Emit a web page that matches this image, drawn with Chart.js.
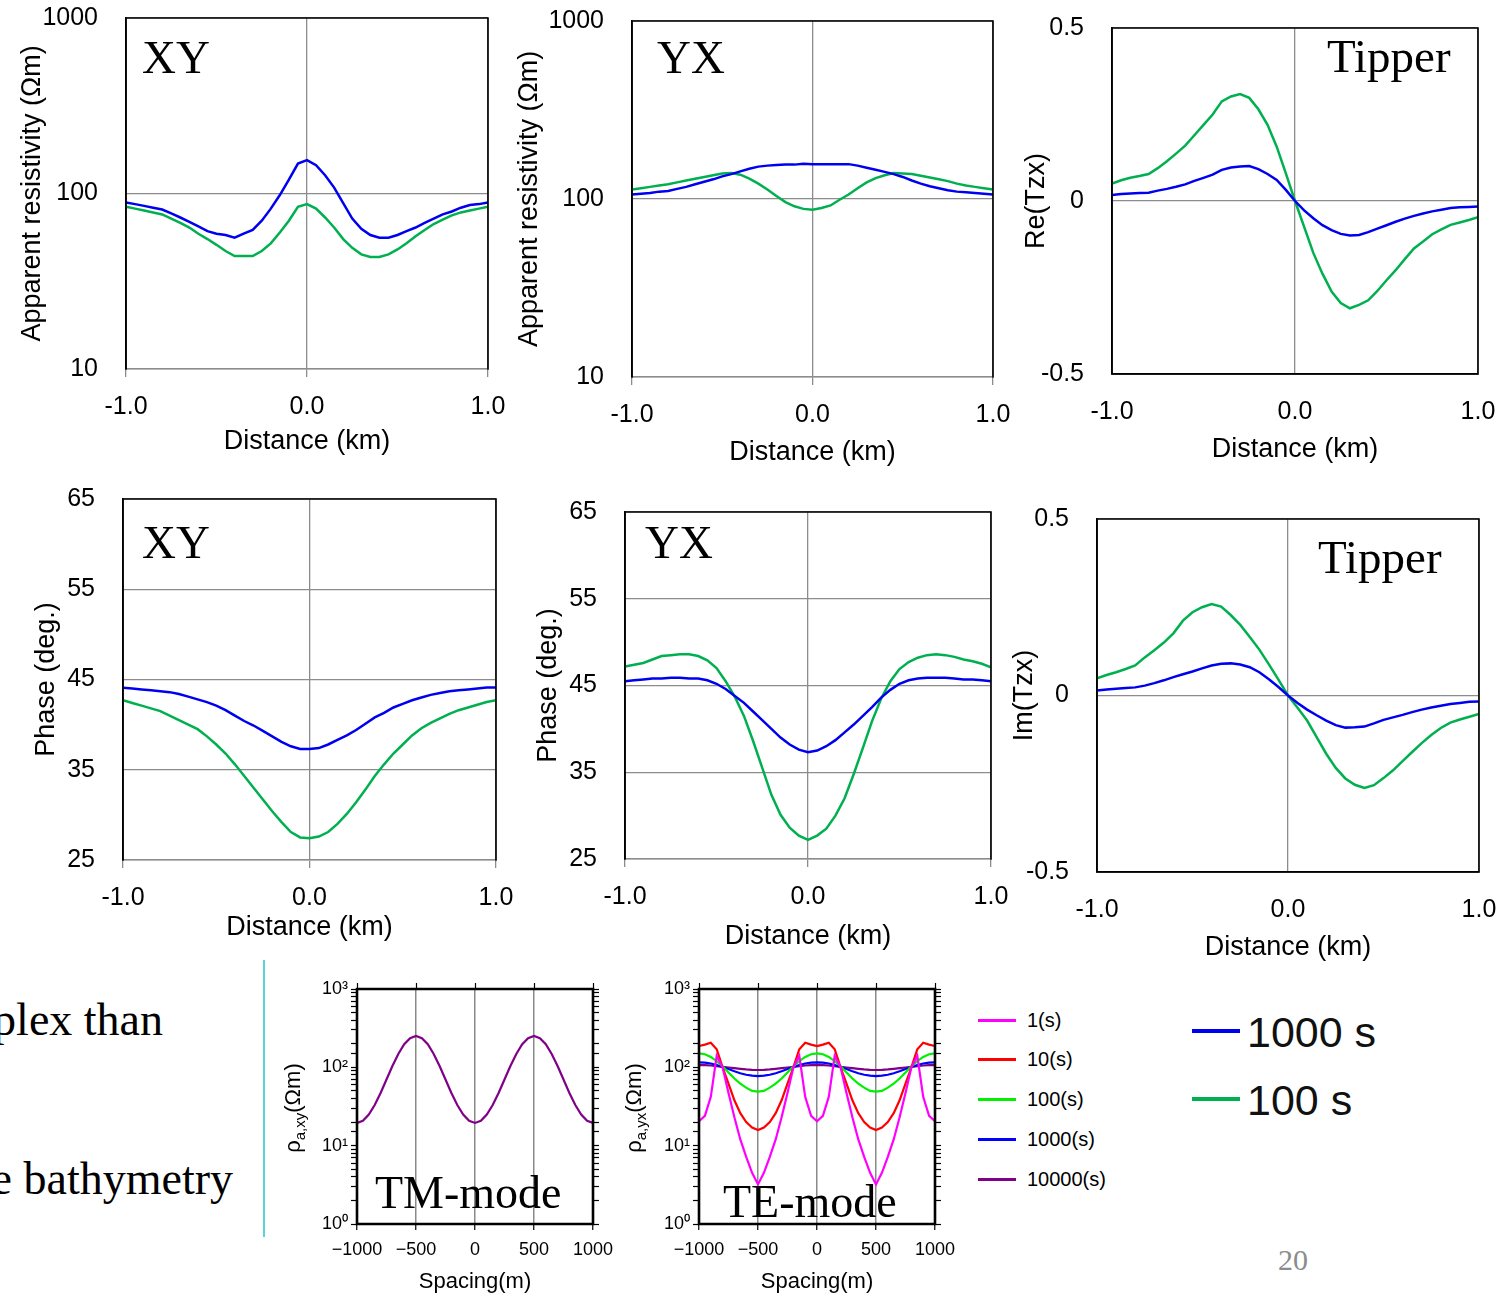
<!DOCTYPE html>
<html>
<head>
<meta charset="utf-8">
<title>Respuestas MT - XY, YX y Tipper</title>
<script src="https://cdn.jsdelivr.net/npm/chart.js"></script>
<style>
  body { margin: 0; width: 1496px; height: 1293px; position: relative; overflow: hidden; background: #fff; }
  canvas { position: absolute; }
  .txt { position: absolute; white-space: nowrap; line-height: 1; }
  .linea { position: absolute; }
</style>
</head>
<body>
<script>
// Distancia a lo largo del perfil [km]
const distancia = [-1.0, -0.95, -0.9, -0.85, -0.8, -0.75, -0.7, -0.65, -0.6, -0.55, -0.5, -0.45, -0.4, -0.35, -0.3, -0.25, -0.2, -0.15, -0.1, -0.05, 0,
  0.05, 0.1, 0.15, 0.2, 0.25, 0.3, 0.35, 0.4, 0.45, 0.5, 0.55, 0.6, 0.65, 0.7, 0.75, 0.8, 0.85, 0.9, 0.95, 1.0];

// Resistividad aparente XY [ohm m]
const rhoXY1000 = [89, 87, 85, 83, 81, 77, 73, 69, 65, 61, 59, 58, 56, 59, 62, 70, 82, 98, 120, 148, 155, 145, 127, 108, 88, 72, 63, 58, 56, 56, 58, 61, 64, 68, 72, 76, 79, 83, 86, 87, 89];
const rhoXY100 = [84, 82, 80, 78, 76, 72, 68, 64, 59, 55, 51, 47, 44, 44, 44, 47, 52, 60, 70, 84, 87, 82, 73, 64, 55, 49, 45, 43.5, 43.5, 45, 48, 52, 57, 62, 67, 71, 75, 78, 80, 82, 84];

// Resistividad aparente YX [ohm m]
const rhoYX1000 = [106, 107, 108, 110, 111, 114, 117, 121, 125, 129, 134, 138, 143, 148, 152, 154, 155, 156, 156, 158, 157, 157, 157, 157, 157, 154, 150, 146, 142, 138, 133, 127, 122, 118, 115, 112, 110, 109, 108, 107, 106];
const rhoYX100 = [113, 115, 117, 119, 121, 124, 127, 130, 133, 136, 139, 140, 137, 130, 122, 113, 104, 96, 91, 88, 87, 89, 92, 99, 106, 115, 124, 131, 136, 140, 139, 138, 135, 132, 129, 126, 122, 119, 117, 115, 113];

// Parte real del tipper
const reTzx1000 = [0.017, 0.02, 0.022, 0.023, 0.024, 0.03, 0.035, 0.041, 0.048, 0.058, 0.067, 0.076, 0.09, 0.097, 0.1, 0.101, 0.092, 0.078, 0.061, 0.032, 0,
  -0.027, -0.05, -0.07, -0.084, -0.095, -0.1, -0.098, -0.09, -0.08, -0.07, -0.06, -0.051, -0.043, -0.036, -0.03, -0.025, -0.02, -0.018, -0.017, -0.016];
const reTzx100 = [0.05, 0.06, 0.067, 0.072, 0.078, 0.095, 0.115, 0.137, 0.16, 0.19, 0.22, 0.25, 0.288, 0.302, 0.309, 0.298, 0.265, 0.22, 0.157, 0.08, 0,
  -0.075, -0.15, -0.21, -0.262, -0.295, -0.31, -0.3, -0.287, -0.26, -0.229, -0.2, -0.168, -0.137, -0.117, -0.096, -0.082, -0.069, -0.062, -0.055, -0.047];

// Fase XY [grados]
const faseXY1000 = [44.1, 44.0, 43.9, 43.8, 43.7, 43.6, 43.4, 43.1, 42.8, 42.5, 42.1, 41.6, 41.0, 40.4, 39.9, 39.3, 38.7, 38.1, 37.6, 37.3, 37.3,
  37.4, 37.8, 38.3, 38.8, 39.4, 40.1, 40.8, 41.3, 41.9, 42.3, 42.7, 43.0, 43.3, 43.5, 43.7, 43.8, 43.9, 44.0, 44.1, 44.1];
const faseXY100 = [42.7, 42.4, 42.1, 41.8, 41.5, 41.0, 40.5, 40.0, 39.5, 38.7, 37.8, 36.8, 35.6, 34.3, 33.0, 31.7, 30.4, 29.2, 28.1, 27.5, 27.4,
  27.6, 28.1, 29.0, 30.1, 31.4, 32.8, 34.3, 35.6, 36.8, 37.8, 38.8, 39.6, 40.2, 40.7, 41.2, 41.6, 41.9, 42.2, 42.5, 42.7];

// Fase YX [grados]
const faseYX1000 = [45.5, 45.6, 45.7, 45.8, 45.8, 45.9, 45.9, 45.8, 45.8, 45.6, 45.2, 44.6, 43.8, 43.0, 42.0, 41.0, 40.0, 39.0, 38.2, 37.6, 37.3,
  37.5, 38.0, 38.7, 39.6, 40.5, 41.5, 42.5, 43.6, 44.5, 45.2, 45.6, 45.8, 45.9, 45.9, 45.9, 45.8, 45.7, 45.7, 45.6, 45.5];
const faseYX100 = [47.2, 47.4, 47.6, 48.0, 48.4, 48.5, 48.6, 48.6, 48.4, 47.9, 47.0, 45.5, 43.7, 41.5, 38.6, 35.5, 32.4, 30.1, 28.6, 27.7, 27.2,
  27.7, 28.5, 30.0, 32.0, 34.8, 37.8, 40.9, 43.5, 45.5, 46.9, 47.7, 48.2, 48.5, 48.6, 48.5, 48.3, 48.0, 47.8, 47.5, 47.1];

// Parte imaginaria del tipper
const imTzx1000 = [0.014, 0.017, 0.019, 0.021, 0.023, 0.028, 0.035, 0.043, 0.052, 0.06, 0.068, 0.077, 0.085, 0.09, 0.091, 0.088, 0.08, 0.066, 0.046, 0.024, 0,
  -0.021, -0.04, -0.056, -0.071, -0.084, -0.091, -0.09, -0.088, -0.079, -0.069, -0.062, -0.055, -0.047, -0.04, -0.034, -0.029, -0.024, -0.021, -0.018, -0.017];
const imTzx100 = [0.049, 0.058, 0.066, 0.075, 0.085, 0.108, 0.128, 0.15, 0.176, 0.212, 0.236, 0.25, 0.259, 0.252, 0.228, 0.2, 0.166, 0.13, 0.088, 0.045, 0,
  -0.035, -0.071, -0.118, -0.165, -0.205, -0.235, -0.253, -0.262, -0.254, -0.234, -0.212, -0.186, -0.16, -0.135, -0.112, -0.092, -0.077, -0.068, -0.06, -0.052];

// Espaciado de los modelos sinteticos [m]
const espaciado = [-1000, -950, -900, -850, -800, -750, -700, -650, -600, -550, -500, -450, -400, -350, -300, -250, -200, -150, -100, -50, 0,
  50, 100, 150, 200, 250, 300, 350, 400, 450, 500, 550, 600, 650, 700, 750, 800, 850, 900, 950, 1000];

// Modo TM (todas las curvas coinciden)
const rhoTM = [19.5, 20.8, 25, 33, 47, 70, 104, 148, 197, 236, 251, 236, 197, 148, 104, 70, 47, 33, 25, 20.8, 19.5,
  20.8, 25, 33, 47, 70, 104, 148, 197, 236, 251, 236, 197, 148, 104, 70, 47, 33, 25, 20.8, 19.5];

// Modo TE por periodo
const rhoTE1 = [20.5, 24, 42, 140, 100, 47, 23, 12, 7.2, 4.5, 3.2, 4.5, 7.2, 12, 23, 47, 100, 140, 42, 24, 20.5,
  24, 42, 140, 100, 47, 23, 12, 7.2, 4.5, 3.2, 4.5, 7.2, 12, 23, 47, 100, 140, 42, 24, 20.5];
const rhoTE10 = [187, 195, 206, 170, 100, 62, 38, 26, 20, 17, 15.8, 17, 20, 26, 38, 62, 100, 170, 206, 195, 187,
  195, 206, 170, 100, 62, 38, 26, 20, 17, 15.8, 17, 20, 26, 38, 62, 100, 170, 206, 195, 187];
const rhoTE100 = [151, 147, 136, 120, 103, 86, 72, 62, 55, 50, 49, 50, 55, 62, 72, 86, 103, 120, 136, 147, 151,
  147, 136, 120, 103, 86, 72, 62, 55, 50, 49, 50, 55, 62, 72, 86, 103, 120, 136, 147, 151];
const rhoTE1000 = [116, 115, 112, 107, 101, 95, 89, 84, 80.5, 78.3, 77.4, 78.3, 80.5, 84, 89, 95, 101, 107, 112, 115, 116,
  115, 112, 107, 101, 95, 89, 84, 80.5, 78.3, 77.4, 78.3, 80.5, 84, 89, 95, 101, 107, 112, 115, 116];
const rhoTE10000 = [107, 106.6, 105.5, 103.7, 101.5, 99.5, 97.5, 95.6, 94, 93, 92.5, 93, 94, 95.6, 97.5, 99.5, 101.5, 103.7, 105.5, 106.6, 107,
  106.6, 105.5, 103.7, 101.5, 99.5, 97.5, 95.6, 94, 93, 92.5, 93, 94, 95.6, 97.5, 99.5, 101.5, 103.7, 105.5, 106.6, 107];

const periodosTE = ['1(s)', '10(s)', '100(s)', '1000(s)', '10000(s)'];
const periodosPerfil = ['1000 s', '100 s'];

// Marcas de los ejes
const ticksDistancia = [-1, 0, 1];
const ticksRho = [10, 100, 1000];
const ticksFase = [25, 35, 45, 55, 65];
const ticksTipper = [-0.5, 0, 0.5];
const ticksEspaciado = [-1000, -500, 0, 500, 1000];

const AZUL = '#0000f0';
const VERDE = '#00b050';
const GRIS = '#8c8c8c';
const coloresTE = ['#ff00ff', '#ff0000', '#00f000', '#0000ff', '#800088'];
const sans = '"Liberation Sans", Arial, sans-serif';
const serif = '"Liberation Serif", "Times New Roman", serif';

let serie = (xs, ys) => xs.map((x, i) => ({x: x, y: ys[i]}));

//Plugin que dibuja el marco negro del area de trazado
const marco = {
  id: 'marco',
  afterDatasetsDraw(chart, args, opts) {
    const {left, top, right, bottom} = chart.chartArea;
    const ctx = chart.ctx;
    ctx.save();
    ctx.strokeStyle = '#000';
    ctx.lineWidth = opts.ancho;
    ctx.lineCap = 'square';
    ctx.beginPath();
    if (opts.lados.includes('l')) { ctx.moveTo(left, bottom); ctx.lineTo(left, top); }
    if (opts.lados.includes('t')) { ctx.moveTo(left, top); ctx.lineTo(right, top); }
    if (opts.lados.includes('r')) { ctx.moveTo(right, top); ctx.lineTo(right, bottom); }
    if (opts.lados.includes('b')) { ctx.moveTo(left, bottom); ctx.lineTo(right, bottom); }
    ctx.stroke();
    ctx.restore();
  }
};

//Plugin para el rotulo dentro del grafico (XY, YX, Tipper, TM-mode...)
const rotulo = {
  id: 'rotulo',
  afterDraw(chart, args, opts) {
    const ctx = chart.ctx;
    ctx.save();
    ctx.font = opts.size + 'px ' + serif;
    ctx.fillStyle = '#000';
    ctx.textBaseline = 'alphabetic';
    ctx.fillText(opts.texto, chart.chartArea.left + opts.dx, chart.chartArea.top + opts.dy);
    ctx.restore();
  }
};

let crearLienzo = (x, y, w, h) => {
  const c = document.createElement('canvas');
  c.width = w; c.height = h;
  c.style.left = x + 'px'; c.style.top = y + 'px';
  c.style.width = w + 'px'; c.style.height = h + 'px';
  document.body.appendChild(c);
  return c;
};

//Paneles del perfil (resistividad, fase y tipper)
let crearPanel = (p) => {
  // margenes amplios: chart.js suma el padding de las etiquetas a los bordes
  const ejeY = 120, ejeX = 95, margenSup = 50, margenDer = 45;
  const ancho = (p.der - p.izq) + ejeY + margenDer;
  const alto = (p.inf - p.sup) + margenSup + ejeX;
  const lienzo = crearLienzo(p.izq - ejeY, p.sup - margenSup, ancho, alto);
  const tam = 27;

  new Chart(lienzo, {
    type: 'line',
    data: {
      datasets: [
        {label: periodosPerfil[0], data: serie(distancia, p.azul), borderColor: AZUL},
        {label: periodosPerfil[1], data: serie(distancia, p.verde), borderColor: VERDE}
      ]
    },
    options: {
      responsive: false,
      animation: false,
      devicePixelRatio: 1,
      layout: {padding: {top: margenSup, right: margenDer, left: 0, bottom: 0}},
      elements: {point: {radius: 0}, line: {borderWidth: 2.5, tension: 0, fill: false}},
      plugins: {
        legend: {display: false},
        tooltip: {enabled: false},
        marco: {lados: p.lados, ancho: 1.6},
        rotulo: {texto: p.rotulo, dx: p.rx, dy: p.ry, size: 47}
      },
      scales: {
        x: {
          type: 'linear', min: -1, max: 1,
          afterBuildTicks: s => { s.ticks = ticksDistancia.map(v => ({value: v})); },
          afterFit: s => { s.height = ejeX; },
          ticks: {callback: v => v.toFixed(1), font: {family: sans, size: 25}, color: '#000', padding: p.marcasX ? 15 : 23},
          grid: {color: GRIS, lineWidth: 1.3, drawTicks: p.marcasX, tickLength: 8, tickColor: GRIS},
          border: {display: true, color: p.bordeX, width: 1.5},
          title: {display: true, text: 'Distance (km)', color: '#000', font: {family: sans, size: tam},
                  padding: {top: 0, bottom: ejeX - p.tituloX - tam * 0.6}}
        },
        y: {
          type: p.log ? 'logarithmic' : 'linear', min: p.ticks[0], max: p.ticks[p.ticks.length - 1],
          afterBuildTicks: s => { s.ticks = p.ticks.map(v => ({value: v})); },
          afterFit: s => { s.width = ejeY; },
          ticks: {callback: p.formato, font: {family: sans, size: 25}, color: '#000', padding: 28},
          grid: {color: GRIS, lineWidth: 1.3, drawTicks: false},
          border: {display: true, color: '#000', width: 1.6},
          title: {display: true, text: p.titulo, color: '#000', font: {family: sans, size: tam},
                  padding: {top: p.tituloY - (p.izq - ejeY) - tam * 0.6, bottom: 0}}
        }
      }
    },
    plugins: [marco, rotulo]
  });
};

let entero = v => String(v);
let tipper = v => v === 0 ? '0' : v.toFixed(1);

crearPanel({izq: 126, sup: 18, der: 488, inf: 369, log: true, ticks: ticksRho, formato: entero,
  titulo: 'Apparent resistivity (\u03A9m)', tituloY: 33, tituloX: 73, azul: rhoXY1000, verde: rhoXY100,
  rotulo: 'XY', rx: 16, ry: 55, marcasX: true, bordeX: GRIS, lados: 'ltr'});
crearPanel({izq: 632, sup: 21, der: 993, inf: 377, log: true, ticks: ticksRho, formato: entero,
  titulo: 'Apparent resistivity (\u03A9m)', tituloY: 530, tituloX: 76, azul: rhoYX1000, verde: rhoYX100,
  rotulo: 'YX', rx: 25, ry: 52, marcasX: true, bordeX: GRIS, lados: 'ltr'});
crearPanel({izq: 1112, sup: 28, der: 1478, inf: 374, log: false, ticks: ticksTipper, formato: tipper,
  titulo: 'Re(Tzx)', tituloY: 1037, tituloX: 76, azul: reTzx1000, verde: reTzx100,
  rotulo: 'Tipper', rx: 215, ry: 44, marcasX: false, bordeX: '#000', lados: 'ltrb'});
crearPanel({izq: 123, sup: 499, der: 496, inf: 860, log: false, ticks: ticksFase, formato: entero,
  titulo: 'Phase (deg.)', tituloY: 47, tituloX: 68, azul: faseXY1000, verde: faseXY100,
  rotulo: 'XY', rx: 19, ry: 59, marcasX: true, bordeX: GRIS, lados: 'ltr'});
crearPanel({izq: 625, sup: 512, der: 991, inf: 859, log: false, ticks: ticksFase, formato: entero,
  titulo: 'Phase (deg.)', tituloY: 549, tituloX: 78, azul: faseYX1000, verde: faseYX100,
  rotulo: 'YX', rx: 20, ry: 46, marcasX: true, bordeX: GRIS, lados: 'ltr'});
crearPanel({izq: 1097, sup: 519, der: 1479, inf: 872, log: false, ticks: ticksTipper, formato: tipper,
  titulo: 'Im(Tzx)', tituloY: 1025, tituloX: 76, azul: imTzx1000, verde: imTzx100,
  rotulo: 'Tipper', rx: 221, ry: 54, marcasX: false, bordeX: '#000', lados: 'ltrb'});

//Graficos de los modelos sinteticos TM y TE
const superindice = ['\u2070', '\u00B9', '\u00B2', '\u00B3'];
let potencia = v => {
  const e = Math.round(Math.log10(v));
  return Math.abs(v - Math.pow(10, e)) < 1e-6 ? '10' + superindice[e] : '';
};
let espacio = v => v < 0 ? '\u2212' + Math.abs(v) : String(v);

let crearModo = (m) => {
  const ejeY = 70, ejeX = 80, margenSup = 12, ejeSup = 8, margenDer = 22, ejeDer = 8;
  const ancho = (m.der - m.izq) + ejeY + margenDer + ejeDer;
  const alto = (m.inf - m.sup) + margenSup + ejeSup + ejeX;
  const lienzo = crearLienzo(m.izq - ejeY, m.sup - margenSup - ejeSup, ancho, alto);
  const ejeLog = (pos, ancho, mostrar) => ({
    type: 'logarithmic', position: pos, min: 1, max: 1000,
    afterFit: s => { s.width = ancho; },
    ticks: {display: mostrar, autoSkip: false, callback: potencia, font: {family: sans, size: 18}, color: '#000', padding: 3},
    grid: {drawOnChartArea: false, tickLength: 6, tickColor: '#000', tickWidth: 1.2},
    border: {display: false}
  });

  new Chart(lienzo, {
    type: 'line',
    data: {
      datasets: m.series.map((s, i) => ({label: m.etiquetas[i], data: serie(espaciado, s), borderColor: m.colores[i]}))
    },
    options: {
      responsive: false,
      animation: false,
      devicePixelRatio: 1,
      layout: {padding: {top: margenSup, right: margenDer, left: 0, bottom: 0}},
      elements: {point: {radius: 0}, line: {borderWidth: 2.2, tension: 0, fill: false}},
      plugins: {
        legend: {display: false},
        tooltip: {enabled: false},
        marco: {lados: 'ltrb', ancho: 2.6},
        rotulo: {texto: m.rotulo, dx: m.rx, dy: m.ry, size: 46}
      },
      scales: {
        x: {
          type: 'linear', position: 'bottom', min: -1000, max: 1000,
          afterBuildTicks: s => { s.ticks = ticksEspaciado.map(v => ({value: v})); },
          afterFit: s => { s.height = ejeX; },
          ticks: {callback: espacio, font: {family: sans, size: 18}, color: '#000', padding: 9},
          grid: {color: '#8a8a8a', lineWidth: 1.5, tickLength: 6, tickColor: '#000', tickWidth: 1.2},
          border: {display: false},
          title: {display: true, text: 'Spacing(m)', color: '#000', font: {family: sans, size: 22},
                  padding: {top: 0, bottom: ejeX - 58 - 22 * 0.6}}
        },
        xs: {
          type: 'linear', position: 'top', min: -1000, max: 1000,
          afterBuildTicks: s => { s.ticks = ticksEspaciado.map(v => ({value: v})); },
          afterFit: s => { s.height = ejeSup; },
          ticks: {display: false},
          grid: {drawOnChartArea: false, tickLength: 6, tickColor: '#000', tickWidth: 1.2},
          border: {display: false}
        },
        y: ejeLog('left', ejeY, true),
        yd: ejeLog('right', ejeDer, false)
      }
    },
    plugins: [marco, rotulo]
  });
};

crearModo({izq: 357, sup: 989, der: 593, inf: 1224, series: [rhoTM], etiquetas: [periodosTE[4]], colores: [coloresTE[4]],
  rotulo: 'TM-mode', rx: 18, ry: 219});
crearModo({izq: 699, sup: 989, der: 935, inf: 1224, series: [rhoTE1, rhoTE10, rhoTE100, rhoTE1000, rhoTE10000],
  etiquetas: periodosTE, colores: coloresTE, rotulo: 'TE-mode', rx: 24, ry: 228});

//Textos y leyendas en HTML
let texto = (str, x, base, tam, familia, color, derecha) => {
  const d = document.createElement('div');
  d.className = 'txt';
  d.textContent = str;
  d.style.fontFamily = familia;
  d.style.fontSize = tam + 'px';
  d.style.color = color;
  d.style.top = (base - tam * (familia === serif ? 0.8375 : 0.8465)) + 'px';
  if (derecha) d.style.right = (1496 - x) + 'px'; else d.style.left = x + 'px';
  document.body.appendChild(d);
  return d;
};
let linea = (x, y, w, h, color) => {
  const d = document.createElement('div');
  d.className = 'linea';
  d.style.cssText += `left:${x}px;top:${y}px;width:${w}px;height:${h}px;background:${color}`;
  document.body.appendChild(d);
};

// titulos verticales con subindice de los modelos sinteticos
let tituloModo = (cx, cy, sub) => {
  const d = document.createElement('div');
  d.className = 'txt';
  d.style.cssText += `left:${cx - 100}px;top:${cy - 15}px;width:200px;height:30px;line-height:30px;text-align:center;` +
    `font-family:${sans};font-size:22px;color:#000;transform:rotate(-90deg)`;
  d.innerHTML = '\u03C1<sub style="font-size:15px">' + sub + '</sub>(\u03A9m)';
  document.body.appendChild(d);
};
tituloModo(293, 1108, 'a,xy');
tituloModo(634, 1108, 'a,yx');

// leyenda de los periodos TE
const filasTE = [1020, 1059, 1099, 1139, 1179];
periodosTE.forEach((et, i) => {
  linea(978, filasTE[i] - 1, 38, 2.5, coloresTE[i]);
  texto(et, 1027, filasTE[i] + 7, 20, sans, '#000');
});

// leyenda de los paneles del perfil
linea(1192, 1029, 48, 4, AZUL);
linea(1192, 1097, 48, 4, VERDE);
texto(periodosPerfil[0], 1247, 1047, 43, sans, '#111');
texto(periodosPerfil[1], 1247, 1115, 43, sans, '#111');

// texto de la diapositiva
linea(263, 960, 1.5, 277, '#5cd3dc');
texto('complex than', 163, 1036, 46, serif, '#000', true);
texto('the bathymetry', 233, 1195, 46, serif, '#000', true);
texto('20', 1278, 1270, 30, serif, '#8c8c8c');
</script>
</body>
</html>
